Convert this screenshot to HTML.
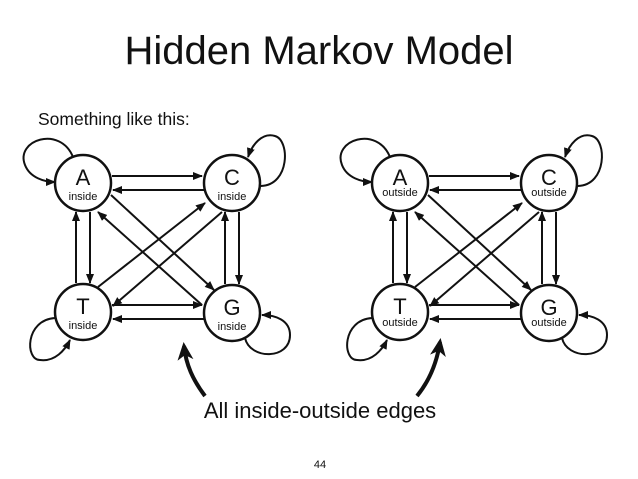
<!DOCTYPE html>
<html><head><meta charset="utf-8"><style>
html,body{margin:0;padding:0;background:#fff}
svg{display:block}
text{font-family:"Liberation Sans",sans-serif;fill:#111}
</style></head><body>
<svg width="638" height="479" viewBox="0 0 638 479" xmlns="http://www.w3.org/2000/svg">
<defs>
<marker id="a" markerUnits="userSpaceOnUse" markerWidth="10" markerHeight="8" refX="9" refY="4" orient="auto"><path d="M0,0 L10,4 L0,8 z" fill="#111"/></marker>
<marker id="b" markerUnits="userSpaceOnUse" markerWidth="18" markerHeight="16" refX="14" refY="8" orient="auto"><path d="M0,0 L18,8 L0,16 L5,8 z" fill="#111"/></marker>
<g id="d" fill="none" stroke="#111" stroke-width="2">
<line x1="112" y1="176" x2="202" y2="176" marker-end="url(#a)"/>
<line x1="204" y1="190" x2="113" y2="190" marker-end="url(#a)"/>
<line x1="112" y1="305" x2="202" y2="305" marker-end="url(#a)"/>
<line x1="204" y1="319" x2="113" y2="319" marker-end="url(#a)"/>
<line x1="90" y1="212" x2="90" y2="283" marker-end="url(#a)"/>
<line x1="76" y1="283" x2="76" y2="212" marker-end="url(#a)"/>
<line x1="239" y1="212" x2="239" y2="284" marker-end="url(#a)"/>
<line x1="225" y1="284" x2="225" y2="212" marker-end="url(#a)"/>
<line x1="111" y1="195" x2="214" y2="290" marker-end="url(#a)"/>
<line x1="202" y1="305" x2="98" y2="212" marker-end="url(#a)"/>
<line x1="98" y1="287" x2="205" y2="203" marker-end="url(#a)"/>
<line x1="222" y1="212" x2="113" y2="306" marker-end="url(#a)"/>
<path d="M73,157 C60,125 15,140 25,165 C30,178 45,182 55,182" marker-end="url(#a)"/>
<path d="M261,186 C290,185 290,140 275,136 C262,132 252,145 248,157" marker-end="url(#a)"/>
<path d="M55,318 C25,320 25,360 40,360 C55,362 65,350 70,340" marker-end="url(#a)"/>
<path d="M245,338 C250,360 290,360 290,335 C290,320 275,315 262,315" marker-end="url(#a)"/>
<circle cx="83" cy="183" r="28" fill="#fff" stroke-width="2.5"/>
<circle cx="232" cy="183" r="28" fill="#fff" stroke-width="2.5"/>
<circle cx="83" cy="312" r="28" fill="#fff" stroke-width="2.5"/>
<circle cx="232" cy="313" r="28" fill="#fff" stroke-width="2.5"/>
</g>
</defs>
<text x="319" y="64" font-size="40" text-anchor="middle">Hidden Markov Model</text>
<text x="38" y="125" font-size="17.5" font-weight="500">Something like this:</text>
<use href="#d"/>
<use href="#d" x="317"/>
<g font-size="22" text-anchor="middle">
<text x="83" y="185">A</text><text x="232" y="185">C</text><text x="83" y="314">T</text><text x="232" y="315">G</text>
<text x="400" y="185">A</text><text x="549" y="185">C</text><text x="400" y="314">T</text><text x="549" y="315">G</text>
</g>
<g font-size="11" text-anchor="middle">
<text x="83" y="200">inside</text><text x="232" y="200">inside</text><text x="83" y="329">inside</text><text x="232" y="330">inside</text>
<text x="400" y="196">outside</text><text x="549" y="196">outside</text><text x="400" y="326">outside</text><text x="549" y="326">outside</text>
</g>
<path d="M205,396 C193,380 186,365 184,346" fill="none" stroke="#111" stroke-width="4" marker-end="url(#b)"/>
<path d="M417,396 C430,380 437,362 440,342" fill="none" stroke="#111" stroke-width="4" marker-end="url(#b)"/>
<text x="320" y="418" font-size="22" text-anchor="middle">All inside-outside edges</text>
<text x="320" y="468" font-size="11" text-anchor="middle" fill="#444">44</text>
</svg>
</body></html>
